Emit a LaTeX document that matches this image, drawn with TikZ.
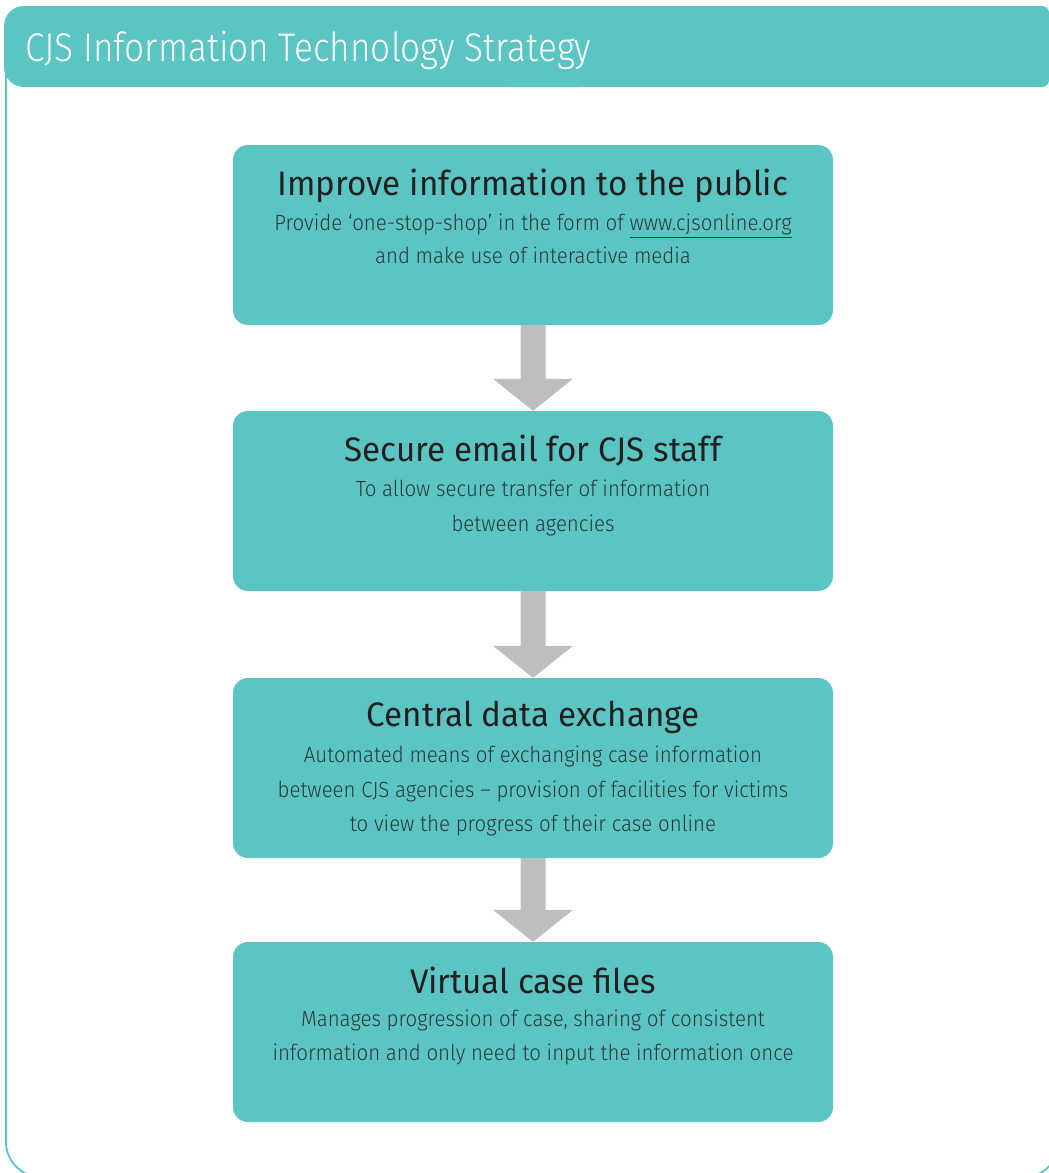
\documentclass[tikz,border=0pt]{standalone}
\usepackage{fontspec}
\usetikzlibrary{calc}
\IfFontExistsTF{Fira Sans Light}{%
  \setmainfont{Fira Sans Light}[FakeStretch=0.93]%
  \newfontfamily\titlefont{Fira Sans Light}[FakeStretch=0.88]}{%
  \setmainfont{Fira Sans}[FakeStretch=0.93]%
  \newfontfamily\titlefont{Fira Sans}[FakeStretch=0.88]}
\newfontfamily\headfont{Fira Sans}[FakeStretch=0.975]
\definecolor{teal1}{HTML}{5BC5C4}
\definecolor{arrowgray}{HTML}{BCBEC0}
\definecolor{headtext}{HTML}{231F20}
\definecolor{bodytext}{HTML}{2B3839}
\tikzset{
  stagebox/.style={fill=teal1, rounded corners=15pt, minimum width=600pt, minimum height=180pt, inner sep=0pt},
  headline/.style={anchor=base, inner sep=0pt, text=headtext, font=\headfont\fontsize{34}{38}\selectfont},
  bodyline/.style={anchor=base, inner sep=0pt, text=bodytext, font=\fontsize{22}{26}\selectfont},
  flowarrow/.style={fill=arrowgray}
}
\newcommand{\flowarr}[2]{%
  \fill[flowarrow] ($(#1.south)+(-12.5,0)$) -- ($(#1.south)+(12.5,0)$)
    -- ($(#2.north)+(12.5,-32)$) -- ($(#2.north)+(40,-32)$) -- (#2.north)
    -- ($(#2.north)+(-40,-32)$) -- ($(#2.north)+(-12.5,-32)$) -- cycle;}
\begin{document}
\begin{tikzpicture}[x=1pt,y=-1pt]
\useasboundingbox (0,0) rectangle (1049,1173);
\begin{scope}
\clip (0,0) rectangle (1049,1173);
% outer frame
\draw[teal1, line width=1.8pt, rounded corners=35pt] (6,20) rectangle (1059,1177);
% header band
\fill[teal1, rounded corners=20pt] (4,6) rectangle (600,87);
\fill[teal1, rounded corners=7pt] (500,6) rectangle (1049,87);
\end{scope}
\node[anchor=base west, inner sep=0pt, text=white, font=\titlefont\fontsize{40}{44}\selectfont] (title) at (25,61) {CJS Information Technology Strategy};
% boxes
\node[stagebox] (b1) at (533,235) {};
\node[stagebox] (b2) at (533,501) {};
\node[stagebox] (b3) at (533,768) {};
\node[stagebox] (b4) at (533,1032) {};
% texts
\node[headline] (h1) at ($(b1.north)+(0,51)$) {Improve information to the public};
\node[bodyline] (t1a) at ($(b1.north)+(0,86)$) {Provide ‘one-stop-shop’ in the form of \underline{www.cjsonline.org}};
\node[bodyline] (t1b) at ($(b1.north)+(0,119)$) {and make use of interactive media};
\node[headline] (h2) at ($(b2.north)+(0,51)$) {Secure email for CJS staff};
\node[bodyline] (t2a) at ($(b2.north)+(0,86)$) {To allow secure transfer of information};
\node[bodyline] (t2b) at ($(b2.north)+(0,121)$) {between agencies};
\node[headline] (h3) at ($(b3.north)+(0,49)$) {Central data exchange};
\node[bodyline] (t3a) at ($(b3.north)+(0,85)$) {Automated means of exchanging case information};
\node[bodyline] (t3b) at ($(b3.north)+(0,120)$) {between CJS agencies – provision of facilities for victims};
\node[bodyline] (t3c) at ($(b3.north)+(0,154)$) {to view the progress of their case online};
\node[headline] (h4) at ($(b4.north)+(0,52)$) {Virtual case files};
\node[bodyline] (t4a) at ($(b4.north)+(0,85)$) {Manages progression of case, sharing of consistent};
\node[bodyline] (t4b) at ($(b4.north)+(0,119)$) {information and only need to input the information once};
% arrows
\flowarr{b1}{b2}
\flowarr{b2}{b3}
\flowarr{b3}{b4}
\end{tikzpicture}
\end{document}
